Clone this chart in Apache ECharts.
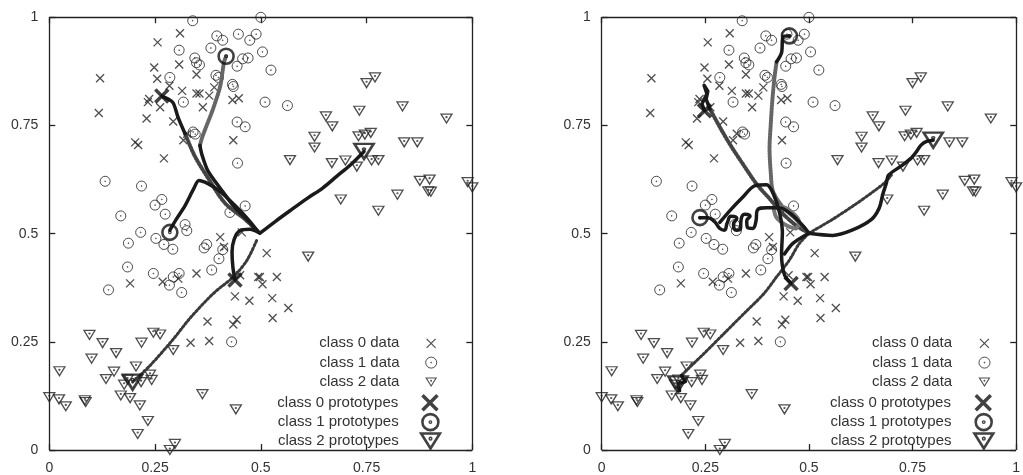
<!DOCTYPE html>
<html><head><meta charset="utf-8">
<script src="https://cdn.jsdelivr.net/npm/echarts@6/dist/echarts.min.js"></script>
<style>html,body{margin:0;padding:0;background:#fff}#c{width:1023px;height:475px}</style>
</head><body><div id="c"></div><script>
// ---------- data ----------
const class0Data = [[0.120,0.859],[0.117,0.779],[0.309,0.963],[0.256,0.942],[0.248,0.884],[0.307,0.891],[0.255,0.858],[0.348,0.868],[0.314,0.830],[0.348,0.824],[0.355,0.824],[0.378,0.819],[0.236,0.811],[0.233,0.804],[0.262,0.792],[0.363,0.792],[0.433,0.809],[0.448,0.813],[0.230,0.766],[0.293,0.759],[0.317,0.716],[0.326,0.731],[0.203,0.711],[0.210,0.705],[0.271,0.674],[0.435,0.716],[0.284,0.842],[0.390,0.838],
  [0.191,0.385],[0.268,0.389],[0.305,0.396],[0.348,0.408],[0.404,0.492],[0.413,0.469],[0.439,0.355],[0.443,0.301],[0.435,0.290],[0.374,0.297],[0.334,0.248],[0.378,0.252],[0.473,0.345],[0.451,0.404],[0.494,0.400],[0.455,0.503],[0.514,0.455],[0.498,0.400],[0.504,0.383],[0.538,0.400],[0.527,0.351],[0.565,0.328],[0.528,0.305]];
const class1Data = [[0.339,0.992],[0.396,0.957],[0.410,0.947],[0.447,0.961],[0.474,0.947],[0.489,0.961],[0.307,0.924],[0.382,0.929],[0.344,0.906],[0.348,0.895],[0.355,0.890],[0.457,0.904],[0.470,0.906],[0.444,0.887],[0.285,0.861],[0.394,0.866],[0.400,0.861],[0.433,0.845],[0.435,0.840],[0.317,0.804],[0.340,0.735],[0.345,0.730],[0.444,0.758],[0.463,0.747],[0.445,0.663],[0.132,0.621],[0.218,0.610],[0.266,0.579],[0.250,0.566],[0.169,0.541],[0.274,0.545],[0.463,0.564],[0.321,0.521],[0.427,0.549],[0.500,1.000],[0.504,0.920],[0.524,0.878],[0.510,0.804],[0.563,0.796],
  [0.216,0.503],[0.187,0.478],[0.252,0.489],[0.271,0.475],[0.292,0.464],[0.185,0.423],[0.246,0.408],[0.140,0.370],[0.284,0.381],[0.293,0.400],[0.307,0.408],[0.313,0.364],[0.366,0.467],[0.372,0.475],[0.401,0.442],[0.384,0.416],[0.410,0.463],[0.431,0.250],[0.325,0.507]];
const class2Data = [[0.750,0.848],[0.770,0.861],[0.835,0.794],[0.733,0.784],[0.654,0.771],[0.939,0.766],[0.669,0.748],[0.627,0.724],[0.627,0.699],[0.731,0.725],[0.746,0.729],[0.760,0.733],[0.839,0.711],[0.870,0.711],[0.569,0.670],[0.668,0.663],[0.700,0.669],[0.727,0.655],[0.762,0.669],[0.778,0.670],[0.876,0.622],[0.899,0.625],[0.896,0.598],[0.902,0.597],[0.989,0.619],[1.000,0.607],[0.823,0.590],[0.689,0.579],[0.778,0.553],[0.612,0.447],
  [0.095,0.266],[0.126,0.247],[0.158,0.224],[0.100,0.211],[0.024,0.182],[0.153,0.181],[0.134,0.164],[0.205,0.193],[0.218,0.248],[0.246,0.271],[0.262,0.267],[0.293,0.231],[0.238,0.174],[0.242,0.162],[0.177,0.151],[0.185,0.163],[0.217,0.157],[0.169,0.126],[0.191,0.120],[0.214,0.103],[0.233,0.067],[0.209,0.037],[0.000,0.122],[0.023,0.117],[0.039,0.101],[0.084,0.115],[0.086,0.111],[0.362,0.129],[0.441,0.094],[0.285,0.000],[0.297,0.014]];

const tickValues = [0, 0.25, 0.5, 0.75, 1];
const legendNames = ['class 0 data','class 1 data','class 2 data','class 0 prototypes','class 1 prototypes','class 2 prototypes'];

// left panel prototypes + trajectories
const leftProto0 = [[0.266,0.818],[0.439,0.393]];
const leftProto1 = [[0.418,0.910],[0.285,0.503]];
const leftProto2 = [[0.744,0.690],[0.197,0.157]];
const leftTrajC0aHatch = [[0.493,0.505],[0.463,0.533],[0.415,0.571],[0.375,0.629],[0.344,0.679],[0.321,0.731]];
const leftTrajC0a = [[0.321,0.731],[0.304,0.770],[0.293,0.802],[0.281,0.811],[0.266,0.818]];
const leftTrajC0b = [[0.498,0.501],[0.474,0.510],[0.451,0.507],[0.437,0.487],[0.432,0.457],[0.434,0.423],[0.439,0.393]];
const leftTrajC1a = [[0.493,0.505],[0.474,0.526],[0.439,0.560],[0.404,0.605],[0.375,0.645],[0.361,0.682],[0.356,0.704]];
const leftTrajC1aHatch = [[0.356,0.704],[0.363,0.727],[0.387,0.788],[0.404,0.841],[0.413,0.896],[0.418,0.910]];
const leftTrajC1b = [[0.493,0.505],[0.470,0.533],[0.439,0.565],[0.408,0.594],[0.385,0.610],[0.368,0.619],[0.354,0.623],[0.340,0.601],[0.321,0.565],[0.300,0.533],[0.285,0.508]];
const leftTrajC2a = [[0.498,0.501],[0.534,0.528],[0.569,0.553],[0.609,0.581],[0.647,0.606],[0.680,0.633],[0.711,0.658],[0.744,0.690]];
const leftTrajC2b = [[0.490,0.484],[0.467,0.438],[0.435,0.400],[0.388,0.362],[0.333,0.305],[0.293,0.256],[0.238,0.195],[0.197,0.157]];

// right panel prototypes + trajectories
const rightProto0 = [[0.248,0.784],[0.457,0.385]];
const rightProto1 = [[0.453,0.957],[0.237,0.537]];
const rightProto2 = [[0.800,0.716],[0.184,0.153]];
const rightTrajC0a = [[0.500,0.501],[0.469,0.519],[0.434,0.549],[0.403,0.583],[0.375,0.613],[0.344,0.656],[0.311,0.704],[0.287,0.743],[0.261,0.788]];
const rightTrajC0aEnd = [[0.261,0.788],[0.252,0.811],[0.256,0.829],[0.247,0.843],[0.254,0.823],[0.242,0.800],[0.248,0.784]];
const rightTrajC0b = [[0.285,0.526],[0.311,0.555],[0.339,0.583],[0.370,0.611],[0.398,0.613],[0.415,0.590],[0.429,0.549],[0.436,0.503],[0.434,0.453],[0.441,0.405],[0.457,0.385]];
const rightTrajC0bLink = [[0.500,0.501],[0.462,0.478],[0.441,0.453]];
const rightTrajC1a = [[0.500,0.501],[0.469,0.533],[0.434,0.565],[0.413,0.599],[0.408,0.640],[0.405,0.697],[0.408,0.754],[0.412,0.811],[0.417,0.861],[0.422,0.897]];
const rightTrajC1aEnd = [[0.422,0.897],[0.434,0.918],[0.438,0.956],[0.453,0.957]];
const rightTrajC1b = [[0.500,0.501],[0.476,0.528],[0.446,0.553],[0.422,0.560],[0.398,0.560],[0.375,0.553],[0.372,0.528],[0.364,0.512],[0.352,0.514],[0.350,0.530],[0.358,0.540],[0.345,0.545],[0.336,0.530],[0.335,0.512],[0.325,0.508],[0.318,0.522],[0.326,0.535],[0.312,0.540],[0.303,0.525],[0.296,0.508],[0.285,0.512],[0.272,0.528],[0.256,0.537],[0.237,0.537]];
const rightTrajC2a = [[0.500,0.501],[0.557,0.496],[0.604,0.508],[0.651,0.533],[0.670,0.560],[0.678,0.590],[0.687,0.617],[0.692,0.635],[0.722,0.656],[0.746,0.674],[0.760,0.690],[0.770,0.704],[0.784,0.713],[0.800,0.716]];
const rightTrajC2aHatch = [[0.500,0.501],[0.557,0.533],[0.611,0.567],[0.658,0.599],[0.682,0.617],[0.699,0.635]];
const rightTrajC2b = [[0.500,0.501],[0.476,0.476],[0.453,0.439],[0.422,0.400],[0.391,0.361],[0.344,0.316],[0.297,0.271],[0.249,0.225],[0.209,0.188],[0.192,0.172]];
const rightTrajC2bEnd = [[0.192,0.172],[0.202,0.158],[0.184,0.153],[0.188,0.137]];
const rightOval = [[0.415,0.558],[0.434,0.562],[0.457,0.551],[0.476,0.528],[0.469,0.512],[0.446,0.519],[0.422,0.537],[0.415,0.558]];

// ---------- styling ----------
const FONT = '"Liberation Sans", Arial, Helvetica, sans-serif';
const INK = '#222';
const PATH_X = 'path://M0,0L10,10M10,0L0,10';
const PATH_O = 'path://M20,10A10,10,0,1,1,0,10A10,10,0,1,1,20,10Z M10.8,10A0.8,0.8,0,1,1,9.2,10A0.8,0.8,0,1,1,10.8,10Z';
const PATH_T = 'path://M0,0L20,0L10,16Z M10.8,5.5A0.8,0.8,0,1,1,9.2,5.5A0.8,0.8,0,1,1,10.8,5.5Z';

function axis(kind, gridIndex, position, labels) {
  return {
    type: 'value', show: true, gridIndex, position, min: 0, max: 1, interval: 0.25,
    axisLine: { show: false },
    axisTick: { show: false },
    axisLabel: { show: labels, fontSize: 14, color: '#333', fontFamily: FONT, margin: 11,
      formatter: v => tickValues.includes(v) ? String(v) : '' },
    splitLine: { show: false }
  };
}

const xAxes = [axis('x',0,'bottom',true), axis('x',0,'top',false), axis('x',1,'bottom',true), axis('x',1,'top',false)];
const yAxes = [axis('y',0,'left',true), axis('y',0,'right',false), axis('y',1,'left',true), axis('y',1,'right',false)];

// plot frame and inward ticks, built from the axis range and tick values
function frameSeries(ax) {
  const tLenY = 6 / 438, tLenX = 6 / 423;
  const segs = [[[0,0],[1,0]], [[1,0],[1,1]], [[1,1],[0,1]], [[0,1],[0,0]]];
  tickValues.forEach(v => {
    segs.push([[v,0],[v,tLenY]]); segs.push([[v,1],[v,1-tLenY]]);
    segs.push([[0,v],[tLenX,v]]); segs.push([[1,v],[1-tLenX,v]]);
  });
  return { type: 'lines', coordinateSystem: 'cartesian2d', xAxisIndex: ax, yAxisIndex: ax, polyline: false,
    clip: false, silent: true, z: 20, symbol: 'none',
    lineStyle: { color: INK, width: 1.3, opacity: 1, curveness: 0 },
    data: segs.map(c => ({ coords: c })) };
}

function dataSeries(ax) {
  const base = { type: 'scatter', xAxisIndex: ax, yAxisIndex: ax, clip: false, z: 2, silent: true };
  return [
    Object.assign({}, base, { name: legendNames[0], data: class0Data, symbol: PATH_X, symbolSize: 8,
      itemStyle: { color: 'transparent', borderColor: INK, borderWidth: 1.3 } }),
    Object.assign({}, base, { name: legendNames[1], data: class1Data, symbol: PATH_O, symbolSize: 10,
      itemStyle: { color: 'transparent', borderColor: INK, borderWidth: 1 } }),
    Object.assign({}, base, { name: legendNames[2], data: class2Data, symbol: PATH_T, symbolSize: [11, 9],
      itemStyle: { color: 'transparent', borderColor: INK, borderWidth: 1.3 } })
  ];
}
function protoSeries(ax, p0, p1, p2) {
  const base = { type: 'scatter', xAxisIndex: ax, yAxisIndex: ax, clip: false, z: 10, silent: true };
  return [
    Object.assign({}, base, { name: legendNames[3], data: p0, symbol: PATH_X, symbolSize: 13,
      itemStyle: { color: 'transparent', borderColor: '#111', borderWidth: 3.5 } }),
    Object.assign({}, base, { name: legendNames[4], data: p1, symbol: PATH_O, symbolSize: 15,
      itemStyle: { color: 'transparent', borderColor: '#111', borderWidth: 2.6 } }),
    Object.assign({}, base, { name: legendNames[5], data: p2, symbol: PATH_T, symbolSize: [19, 15],
      itemStyle: { color: 'transparent', borderColor: '#111', borderWidth: 2.6 } })
  ];
}
const STY = {
  black: { color: '#1a1a1a', width: 3.5, type: 'solid' },
  circles: { color: '#666', width: 4, type: [1.6, 1.2] },
  crosses: { color: '#444', width: 4, type: [1.2, 1.8] },
  tris: { color: '#3a3a3a', width: 3, type: [2, 2.2] },
  oval: { color: '#777', width: 4, type: [1.2, 1.2] }
};
function traj(ax, data, sty, smooth) {
  return { type: 'line', xAxisIndex: ax, yAxisIndex: ax, data, symbol: 'none', smooth: smooth === undefined ? 0.3 : smooth,
    lineStyle: Object.assign({ cap: 'round', join: 'round' }, STY[sty]), z: 5, silent: true, clip: false };
}

const series = [].concat(
  dataSeries(0), dataSeries(2),
  [traj(0,leftTrajC2b,'tris'), traj(0,leftTrajC1aHatch,'circles'), traj(0,leftTrajC0aHatch,'crosses'),
   traj(0,leftTrajC1a,'black'), traj(0,leftTrajC0a,'black'), traj(0,leftTrajC0b,'black'),
   traj(0,leftTrajC1b,'black'), traj(0,leftTrajC2a,'black')],
  [traj(2,rightTrajC2b,'tris'), traj(2,rightTrajC0a,'crosses'), traj(2,rightTrajC1a,'circles'), traj(2,rightOval,'oval'),
   traj(2,rightTrajC2aHatch,'tris'), traj(2,rightTrajC0aEnd,'black',0), traj(2,rightTrajC0b,'black'), traj(2,rightTrajC0bLink,'black'),
   traj(2,rightTrajC1aEnd,'black'), traj(2,rightTrajC1b,'black',0.5), traj(2,rightTrajC2a,'black'), traj(2,rightTrajC2bEnd,'black',0)],
  protoSeries(0, leftProto0, leftProto1, leftProto2),
  protoSeries(2, rightProto0, rightProto1, rightProto2),
  [frameSeries(0), frameSeries(2)]
);

// legends: one per row, right aligned text, icon on the right
const rowCenters = [343.3, 362.6, 382.0, 401.5, 420.8, 440.2];
const icons = [PATH_X, PATH_O, PATH_T, PATH_X, PATH_O, PATH_T];
const iconSizes = [[9,9],[11,11],[10,8],[15,15],[16,16],[19,15]];
const iconWidths = [1.2, 1, 1.1, 3.5, 2.6, 2.6];
const legends = [];
[[431.7, 400], [985, 952.7]].forEach(([cx, textEnd]) => {
  legendNames.forEach((nm, i) => {
    const [w, h] = iconSizes[i];
    const iconLeft = cx - w / 2;
    const pad = iconLeft - textEnd - 5;
    legends.push({
      orient: 'vertical', align: 'right', selectedMode: false, padding: 0,
      right: 1023 - (cx + w / 2), top: rowCenters[i] - 8,
      itemWidth: w, itemHeight: h,
      data: [{ name: nm, icon: icons[i] }],
      itemStyle: { color: 'transparent', borderColor: i < 3 ? INK : '#111', borderWidth: iconWidths[i] },
      textStyle: { fontSize: 15, color: '#333', fontFamily: FONT, lineHeight: 16, padding: [0, pad, 0, 0] }
    });
  });
});

const chart = echarts.init(document.getElementById('c'), null, { renderer: 'canvas' });
chart.setOption({
  animation: false,
  backgroundColor: '#fff',
  grid: [
    { left: 49.3, top: 17.3, width: 423, height: 438 },
    { left: 601.7, top: 17.3, width: 420.5, height: 438 }
  ],
  xAxis: xAxes, yAxis: yAxes,
  legend: legends,
  series
});
</script></body></html>
